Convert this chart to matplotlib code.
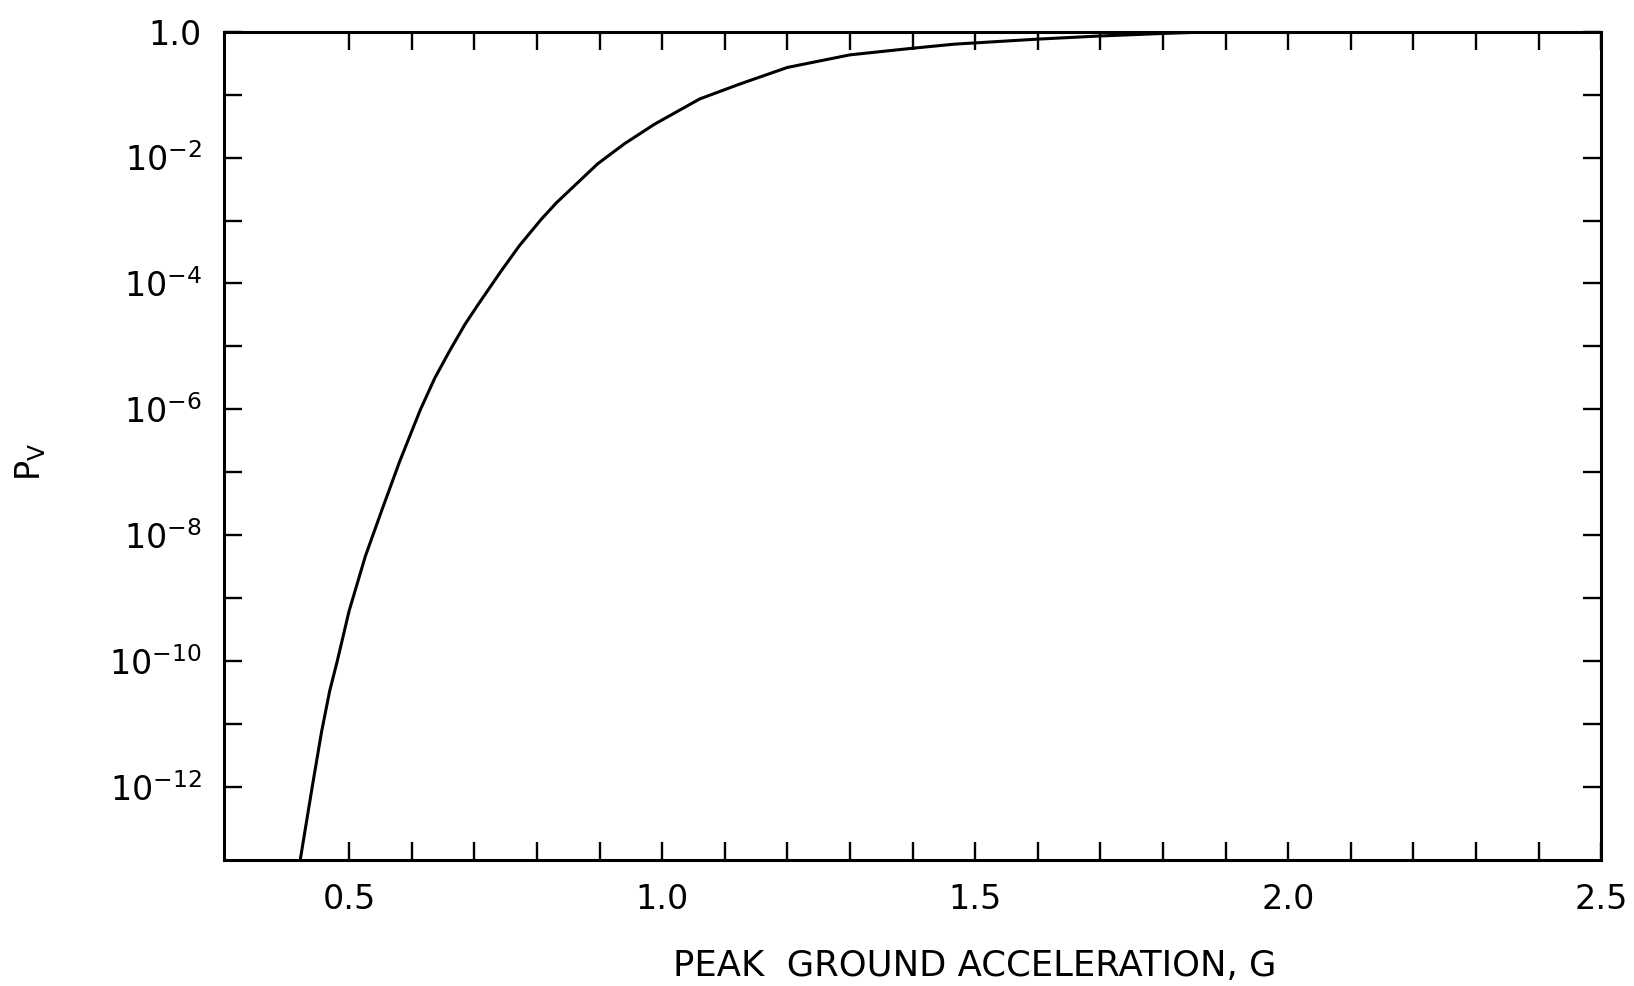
import matplotlib
matplotlib.use("Agg")
import matplotlib.pyplot as plt
import numpy as np

plt.rcParams['font.family'] = ['DejaVu Sans']
plt.rcParams['mathtext.fontset'] = 'dejavusans'

# curve: peak ground acceleration (g) and log10 of P_V
pga = [0.422, 0.441, 0.456, 0.469, 0.481, 0.500, 0.526, 0.553, 0.581,
       0.614, 0.637, 0.660, 0.685, 0.705, 0.743, 0.772, 0.807, 0.831,
       0.897, 0.940, 0.988, 1.060, 1.125, 1.200, 1.300, 1.395, 1.467,
       1.600, 1.700, 1.800, 1.890]
log_pv = [-13.15, -12.0, -11.12, -10.47, -10.0, -9.2, -8.33, -7.58, -6.82,
          -6.0, -5.5, -5.08, -4.65, -4.35, -3.80, -3.40, -2.98, -2.72,
          -2.10, -1.78, -1.47, -1.07, -0.83, -0.57, -0.37, -0.27, -0.20,
          -0.12, -0.07, -0.03, 0.0]

x_major = [0.5, 1.0, 1.5, 2.0, 2.5]
x_labels = ['0.5', '1.0', '1.5', '2.0', '2.5']
y_major_exp = [0, -2, -4, -6, -8, -10, -12]
y_labels = ['1.0'] + [r'$10^{%d}$' % e for e in y_major_exp[1:]]

pv = 10.0 ** np.array(log_pv)

fig = plt.figure(figsize=(16.34, 9.86), dpi=100)
ax = fig.add_axes([0.137, 0.128, 0.843, 0.840])

ax.plot(pga, pv, color='black', lw=2.2, solid_joinstyle='round')

ax.set_yscale('log')
ax.set_xlim(0.3, 2.5)
ax.set_ylim(10 ** -13.15, 1.0)

# ticks every 0.1 on x (none at 0.4), every decade on y
x_minor = [round(v, 1) for v in np.arange(0.6, 2.45, 0.1) if round(v * 10) % 5 != 0]
ax.set_xticks(x_major)
ax.set_xticklabels(x_labels)
ax.set_xticks(x_minor, minor=True)
ax.set_yticks([10.0 ** e for e in y_major_exp])
ax.set_yticklabels(y_labels)
ax.set_yticks([10.0 ** e for e in range(-11, 0, 2)], minor=True)
ax.yaxis.set_minor_formatter(matplotlib.ticker.NullFormatter())

ax.tick_params(which='both', direction='in', length=13, width=1.7,
               top=True, right=True, labelsize=24, color='black')
ax.tick_params(axis='x', which='major', pad=17)
ax.tick_params(axis='y', which='major', pad=16)

for sp in ax.spines.values():
    sp.set_linewidth(2.2)

ax.set_xlabel('PEAK  GROUND ACCELERATION, G', fontsize=25.5)
ax.xaxis.set_label_coords(0.545, -0.108)
ax.set_ylabel(r'P$_{\rm V}$', fontsize=24)
ax.yaxis.set_label_coords(-0.128, 0.48)

fig.savefig('out.png', dpi=100, facecolor='white')
